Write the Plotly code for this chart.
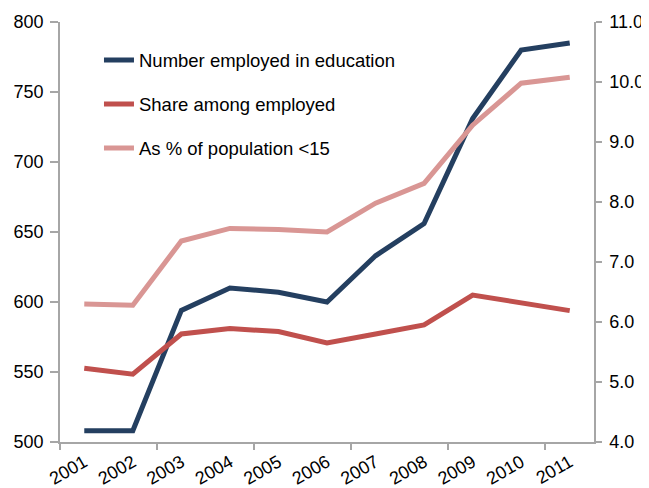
import plotly.graph_objects as go

years = [2001, 2002, 2003, 2004, 2005, 2006, 2007, 2008, 2009, 2010, 2011]
year_labels = [str(y) for y in years]
number_employed = [508, 508, 594, 610, 607, 600, 633, 656, 731, 780, 785]
share_employed = [5.23, 5.13, 5.80, 5.89, 5.84, 5.65, 5.80, 5.95, 6.45, 6.33, 6.19]
pct_pop_under15 = [6.30, 6.28, 7.35, 7.56, 7.54, 7.50, 7.98, 8.31, 9.28, 9.98, 10.08]

FONT = "Liberation Sans, Arial, sans-serif"
AXIS_COLOR = "#a6a6a6"
FS = 18.5
TFS = 18

fig = go.Figure()
fig.add_trace(go.Scatter(x=years, y=number_employed, mode="lines",
                         name="Number employed in education",
                         line=dict(color="#243f60", width=5),
                         legendgroup="a", yaxis="y"))
fig.add_trace(go.Scatter(x=years, y=share_employed, mode="lines",
                         name="Share among employed",
                         line=dict(color="#c0504d", width=5),
                         legendgroup="b", yaxis="y2"))
fig.add_trace(go.Scatter(x=years, y=pct_pop_under15, mode="lines",
                         name="As % of population <15",
                         line=dict(color="#d99694", width=5),
                         legendgroup="c", yaxis="y2"))

# page body has an 8px default margin, so the figure is 8px smaller each way
fig.update_layout(
    width=641, height=480,
    margin=dict(l=52, r=55, t=14, b=46),
    paper_bgcolor="white", plot_bgcolor="white",
    font=dict(family=FONT, size=FS, color="#000000"),
    showlegend=True,
    legend=dict(x=0.073, y=0.9536, xanchor="left", yanchor="top",
                bgcolor="rgba(0,0,0,0)", font=dict(size=FS),
                tracegroupgap=17),
    xaxis=dict(
        range=[years[0] - 0.5, years[-1] + 0.5],
        tickmode="array", tickvals=years, ticktext=year_labels,
        ticks="", tickangle=-30, automargin=False, ticklabelstandoff=1,
        showline=True, linecolor=AXIS_COLOR, linewidth=1.5,
        showgrid=False, zeroline=False,
        minor=dict(ticks="outside", tick0=years[0] - 0.5, dtick=2,
                   ticklen=6, tickcolor=AXIS_COLOR, tickwidth=1.5, showgrid=False),
        tickfont=dict(size=TFS),
    ),
    yaxis=dict(
        range=[500, 800], dtick=50, tick0=500, automargin=False,
        ticks="outside", ticklen=8, tickcolor=AXIS_COLOR, tickwidth=1.5,
        showline=True, linecolor=AXIS_COLOR, linewidth=1.5,
        showgrid=False, zeroline=False, ticklabelstandoff=3,
        tickfont=dict(size=TFS),
    ),
    yaxis2=dict(
        range=[4, 11], dtick=1, tick0=4, tickformat=".1f", automargin=False,
        overlaying="y", side="right",
        ticks="outside", ticklen=6, tickcolor=AXIS_COLOR, tickwidth=1.5,
        showline=True, linecolor=AXIS_COLOR, linewidth=1.5,
        showgrid=False, zeroline=False, ticklabelstandoff=4,
        tickfont=dict(size=TFS),
    ),
)

fig.write_html("out.html")
